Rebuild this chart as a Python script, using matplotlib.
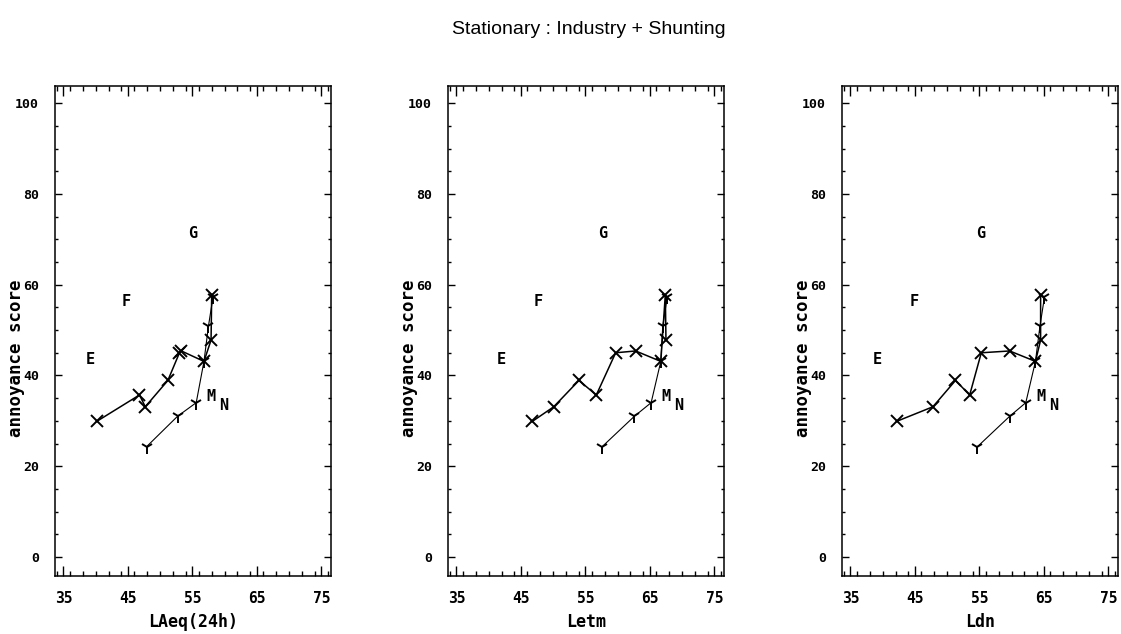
import numpy as np
import matplotlib.pyplot as plt
from matplotlib.ticker import MultipleLocator

title = "Stationary : Industry + Shunting"
metrics = ["LAeq(24h)", "Letm", "Ldn"]

# industry (x markers): annoyance score and noise level per metric
ind_score = [29.9, 33.1, 38.9, 35.7, 45.0, 45.4, 43.1, 47.8, 57.8]
ind_laeq = [40.2, 47.7, 51.2, 46.8, 53.0, 53.3, 56.8, 57.9, 58.0]
ind_letm = [46.8, 50.1, 54.0, 56.7, 59.7, 62.8, 66.7, 67.5, 67.4]
ind_ldn = [42.2, 47.8, 51.3, 53.5, 55.3, 59.7, 63.7, 64.5, 64.5]

# shunting (Y markers)
shu_score = [24.3, 31.0, 34.0, 43.1, 50.9, 57.3]
shu_laeq = [47.9, 52.7, 55.6, 56.8, 57.5, 58.2]
shu_letm = [57.6, 62.6, 65.2, 66.7, 67.0, 67.7]
shu_ldn = [54.7, 59.7, 62.2, 63.7, 64.4, 65.1]

# letters written in the panels (x in dB, y in score)
letters = ["E", "F", "G", "M", "N"]
letter_y = [43.5, 56.2, 71.3, 35.4, 33.4]
letter_x_laeq = [39.2, 44.8, 55.1, 57.9, 59.9]
letter_x_letm = [41.9, 47.7, 57.7, 67.5, 69.4]
letter_x_ldn = [39.2, 44.9, 55.2, 64.5, 66.5]

ind_x = [ind_laeq, ind_letm, ind_ldn]
shu_x = [shu_laeq, shu_letm, shu_ldn]
letter_x = [letter_x_laeq, letter_x_letm, letter_x_ldn]

mono = "DejaVu Sans Mono"

fig = plt.figure(figsize=(11.21, 6.34), dpi=100)
W, H = 1121, 634
lefts = [55, 448, 842]

for i in range(3):
    ax = fig.add_axes([lefts[i] / W, 58 / H, 276 / W, 490 / H])

    x = np.array(ind_x[i])
    y = np.array(ind_score)
    o = np.argsort(x, kind="stable")
    ax.plot(x[o], y[o], color="black", lw=1.1, marker="x", ms=8, mew=1.4)

    x = np.array(shu_x[i])
    y = np.array(shu_score)
    o = np.argsort(x, kind="stable")
    ax.plot(x[o], y[o], color="black", lw=0.8, marker="1", ms=9.5, mew=1.4)

    for t, lx, ly in zip(letters, letter_x[i], letter_y):
        ax.text(lx, ly, t, family=mono, weight="bold", fontsize=11,
                ha="center", va="center")

    ax.set_xlim(33.7, 76.5)
    ax.set_ylim(-4.2, 103.8)
    ax.xaxis.set_major_locator(MultipleLocator(10))
    ax.xaxis.set_minor_locator(MultipleLocator(2))
    ax.yaxis.set_major_locator(MultipleLocator(20))
    ax.yaxis.set_minor_locator(MultipleLocator(5))
    ax.set_xticks([35, 45, 55, 65, 75])

    ax.tick_params(which="both", direction="in", top=True, right=True, width=1)
    ax.tick_params(axis="x", which="major", length=7, pad=11)
    ax.tick_params(axis="x", which="minor", length=3.5)
    ax.tick_params(axis="y", which="major", length=5, pad=11.5)
    ax.tick_params(axis="y", which="minor", length=2.5)
    for lab in ax.get_xticklabels():
        lab.set_family(mono)
        lab.set_weight("bold")
        lab.set_fontsize(10.5)
    for lab in ax.get_yticklabels():
        lab.set_family(mono)
        lab.set_weight("bold")
        lab.set_fontsize(9.5)
    for sp in ax.spines.values():
        sp.set_linewidth(1.1)

    ax.set_xlabel(metrics[i], family=mono, weight="bold", fontsize=12)
    ax.xaxis.set_label_coords(0.5, -0.076)
    ax.set_ylabel("annoyance score", family=mono, weight="bold", fontsize=12.5)
    ax.yaxis.set_label_coords(-0.108, 0.445)

fig.text(0.525, 1 - 29 / H, title, family="Liberation Sans", fontsize=14,
         ha="center", va="center")

fig.savefig("out.png", dpi=100, facecolor="white")
